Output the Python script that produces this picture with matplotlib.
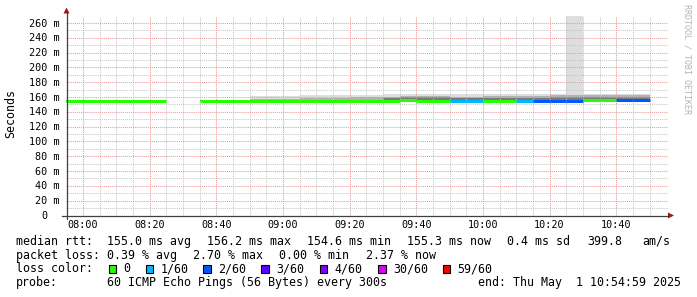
import numpy as np
import matplotlib
matplotlib.use("Agg")
import matplotlib.pyplot as plt
from matplotlib.patches import Rectangle, Polygon
from matplotlib.lines import Line2D

nan = np.nan

# ---------------- data ----------------
bin_starts = ["07:55", "08:00", "08:05", "08:10", "08:15", "08:20", "08:25", "08:30",
              "08:35", "08:40", "08:45", "08:50", "08:55", "09:00", "09:05", "09:10",
              "09:15", "09:20", "09:25", "09:30", "09:35", "09:40", "09:45", "09:50",
              "09:55", "10:00", "10:05", "10:10", "10:15", "10:20", "10:25", "10:30",
              "10:35", "10:40", "10:45"]
bin_minutes = 5

median_ms = [155.0, 155.0, 155.0, 155.0, 155.0, 155.0, nan, nan,
             155.0, 155.0, 155.0, 155.0, 155.0, 155.0, 155.0, 155.0,
             155.0, 155.0, 155.0, 155.0, 155.4, 155.2, 155.2, 155.2,
             154.6, 155.2, 154.8, 155.0, 155.0, 155.0, 155.0, 156.2,
             156.2, 155.3, 155.3]
loss_pings = [0, 0, 0, 0, 0, 0, nan, nan,
              0, 0, 0, 0, 0, 0, 0, 0,
              0, 0, 0, 0, 0, 0, 0, 0.6,
              0.9, 0, 0, 0.5, 1.3, 1.5, 1.62, 0,
              0, 1.2, 1.42]
smoke_min_ms = [154.2, 154.2, 154.2, 154.2, 154.2, 154.2, nan, nan,
                154.2, 154.2, 154.2, 154.2, 154.2, 154.2, 154.2, 154.2,
                154.2, 154.2, 154.2, 154.2, 154.2, 154.2, 154.2, 154.2,
                154.0, 154.2, 154.0, 154.2, 154.2, 154.2, 154.2, 155.0,
                155.0, 154.2, 154.2]
smoke_p75_ms = [155.5, 155.5, 155.5, 155.5, 155.5, 155.5, nan, nan,
                155.5, 155.5, 155.5, 155.5, 155.5, 155.5, 156.0, 156.0,
                156.0, 156.5, 156.5, 158.0, 159.5, 159.5, 159.5, 159.0,
                159.0, 159.0, 159.0, 159.0, 159.0, 160.5, 160.5, 160.5,
                160.5, 160.5, 160.5]
smoke_p90_ms = [155.5, 155.5, 155.5, 155.5, 155.5, 155.5, nan, nan,
                155.5, 155.5, 155.5, 157.0, 157.0, 157.0, 158.5, 158.5,
                158.5, 159.5, 159.5, 160.0, 161.0, 161.0, 161.0, 160.5,
                160.5, 161.0, 161.0, 161.0, 161.0, 162.0, 162.0, 162.0,
                162.0, 162.0, 162.0]
smoke_max_ms = [155.8, 155.8, 155.8, 155.8, 155.8, 155.8, nan, nan,
                156.0, 156.0, 156.0, 161.5, 161.5, 161.5, 162.0, 162.0,
                162.0, 162.5, 162.5, 163.5, 163.5, 163.5, 163.5, 163.5,
                163.5, 163.5, 163.5, 163.5, 163.5, 164.0, 270.0, 164.0,
                164.0, 164.0, 164.0]

xtick_labels = ["08:00", "08:20", "08:40", "09:00", "09:20", "09:40", "10:00", "10:20", "10:40"]
ytick_values = [0, 20, 40, 60, 80, 100, 120, 140, 160, 180, 200, 220, 240, 260]
ytick_labels = ["0", "20 m", "40 m", "60 m", "80 m", "100 m", "120 m", "140 m", "160 m",
                "180 m", "200 m", "220 m", "240 m", "260 m"]

loss_limits = [0, 1, 2, 3, 4, 30, 59]
loss_labels = ["0", "1/60", "2/60", "3/60", "4/60", "30/60", "59/60"]
loss_colors = ["#26ff00", "#00b8ff", "#0059ff", "#5e00ff", "#7e00ff", "#dd00ff", "#ff0000"]

stats_rtt = [("median rtt:", 16), ("155.0 ms avg", 107), ("156.2 ms max", 207),
             ("154.6 ms min", 307), ("155.3 ms now", 407.5), ("0.4 ms sd", 507),
             ("399.8", 587), ("am/s", 642)]
stats_loss = [("packet loss:", 16), ("0.39 % avg", 107), ("2.70 % max", 193.3),
              ("0.00 % min", 279), ("2.37 % now", 365.7)]
probe_text = "60 ICMP Echo Pings (56 Bytes) every 300s"
end_text = "end: Thu May  1 10:54:59 2025"

# ---------------- layout ----------------
W, H = 697, 297
MONO = "DejaVu Sans Mono"
FS_LEG = 8.37
FS_AX = 7.33

AX_L, AX_B, AX_W, AX_H = 66.2, 215.5, 600.0, 200.0   # pixels (B measured from top)


def tmin(s):
    h, m = s.split(":")
    return int(h) * 60 + int(m)


def fx(px):
    return px / W


def fy(py):
    return 1 - py / H


fig = plt.figure(figsize=(W / 100, H / 100), dpi=100)
fig.patch.set_facecolor("white")
ax = fig.add_axes([fx(AX_L), fy(AX_B), AX_W / W, AX_H / H])
ax.set_facecolor("white")

x0 = tmin(bin_starts[0])
x1 = x0 + 180
y_top = 270
ax.set_xlim(x0, x1)
ax.set_ylim(0, y_top)
for s in ax.spines.values():
    s.set_visible(False)
ax.set_xticks([])
ax.set_yticks([])

starts = np.array([tmin(s) for s in bin_starts], dtype=float)

# smoke
smoke_cols = ["#dedede", "#b2b2b2", "#7a7a7a"]
for tops, col in zip([smoke_max_ms, smoke_p90_ms, smoke_p75_ms], smoke_cols):
    lo = np.array(smoke_min_ms, float)
    hi = np.array(tops, float)
    ok = ~np.isnan(hi)
    ax.bar(starts[ok], hi[ok] - lo[ok], bottom=lo[ok], width=bin_minutes, align="edge",
           color=col, linewidth=0, antialiased=False, zorder=1)

# grid
dot = (0, (1, 1))
minor_x = np.arange(x0, x1 + 0.1, 5)
major_x = [tmin(s) for s in xtick_labels]
for v in minor_x:
    if v in major_x or v == x0:
        continue
    ax.axvline(v, color="#c8c8c8", lw=0.75, ls=dot, zorder=2)
for v in major_x:
    ax.axvline(v, color="#e89a9a", lw=0.75, ls=dot, zorder=2.1)
for v in np.arange(10, y_top, 20):
    ax.axhline(v, xmax=1.003, color="#c8c8c8", lw=0.75, ls=dot, zorder=2, clip_on=False)
for v in ytick_values[1:]:
    ax.axhline(v, xmax=1.003, color="#e89a9a", lw=0.75, ls=dot, zorder=2.1, clip_on=False)


def loss_color(l):
    for lim, c in zip(loss_limits, loss_colors):
        if l <= lim:
            return c
    return loss_colors[-1]


# median line
for s, m, l in zip(starts, median_ms, loss_pings):
    if np.isnan(m):
        continue
    ax.hlines(m, s, s + bin_minutes, colors=loss_color(l), lw=2.2, zorder=4,
              capstyle="butt")

# axes lines and arrows
axis_col = "#404040"
arrow_col = "#a01818"
fig.add_artist(Line2D([fx(62), fx(668)], [fy(AX_B), fy(AX_B)], color=axis_col, lw=0.9))
fig.add_artist(Line2D([fx(AX_L + 0.3), fx(AX_L + 0.3)], [fy(219), fy(11)], color=axis_col, lw=0.9))
fig.add_artist(Polygon([[fx(668), fy(AX_B - 3)], [fx(668), fy(AX_B + 3)], [fx(674), fy(AX_B)]],
                       closed=True, color=arrow_col, lw=0))
fig.add_artist(Polygon([[fx(AX_L + 0.3 - 3), fy(13.5)], [fx(AX_L + 0.3 + 3), fy(13.5)],
                        [fx(AX_L + 0.3), fy(7.5)]], closed=True, color=arrow_col, lw=0))

# tick labels
for lab in xtick_labels:
    xp = AX_L + (tmin(lab) - x0) / 180 * AX_W
    fig.text(fx(xp), fy(228.5), lab, family=MONO, fontsize=FS_AX, ha="center",
             va="baseline", color="#000000")
pitch_ax = FS_AX / 72 * 100 * 0.602
for v, lab in zip(ytick_values, ytick_labels):
    yp = AX_B - v / y_top * AX_H
    right = 59.8 if " " in lab else 59.8 - 2 * pitch_ax
    fig.text(fx(right), fy(yp + 3.6), lab, family=MONO, fontsize=FS_AX, ha="right",
             va="baseline", color="#000000")

fig.text(fx(10.7), fy(113.5), "Seconds", family=MONO, fontsize=FS_LEG, rotation=90,
         ha="center", va="center", color="#000000")
fig.text(fx(687.5), fy(59), "RRDTOOL / TOBI OETIKER", family=MONO, fontsize=6.0,
         rotation=-90, ha="center", va="center", color="#b4b4b4")

# legend rows
for txt, xp in stats_rtt:
    fig.text(fx(xp), fy(245), txt, family=MONO, fontsize=FS_LEG, ha="left", va="baseline")
for txt, xp in stats_loss:
    fig.text(fx(xp), fy(258.7), txt, family=MONO, fontsize=FS_LEG, ha="left", va="baseline")

fig.text(fx(16), fy(272.4), "loss color:", family=MONO, fontsize=FS_LEG, ha="left", va="baseline")
box_x = [108.7, 145.7, 203.3, 261.3, 319.5, 378.3, 442.7]
for bx, lab, col in zip(box_x, loss_labels, loss_colors):
    fig.add_artist(Rectangle((fx(bx), fy(272.5)), 7.5 / W, 8 / H, facecolor=col,
                             edgecolor="#000000", lw=0.8))
    fig.text(fx(bx + 14.6), fy(272.4), lab, family=MONO, fontsize=FS_LEG, ha="left",
             va="baseline")

fig.text(fx(16), fy(286), "probe:", family=MONO, fontsize=FS_LEG, ha="left", va="baseline")
fig.text(fx(107), fy(286), probe_text, family=MONO, fontsize=FS_LEG, ha="left", va="baseline")
fig.text(fx(680.5), fy(286), end_text, family=MONO, fontsize=FS_LEG, ha="right", va="baseline")

fig.savefig("out.png", dpi=100, facecolor="white")
